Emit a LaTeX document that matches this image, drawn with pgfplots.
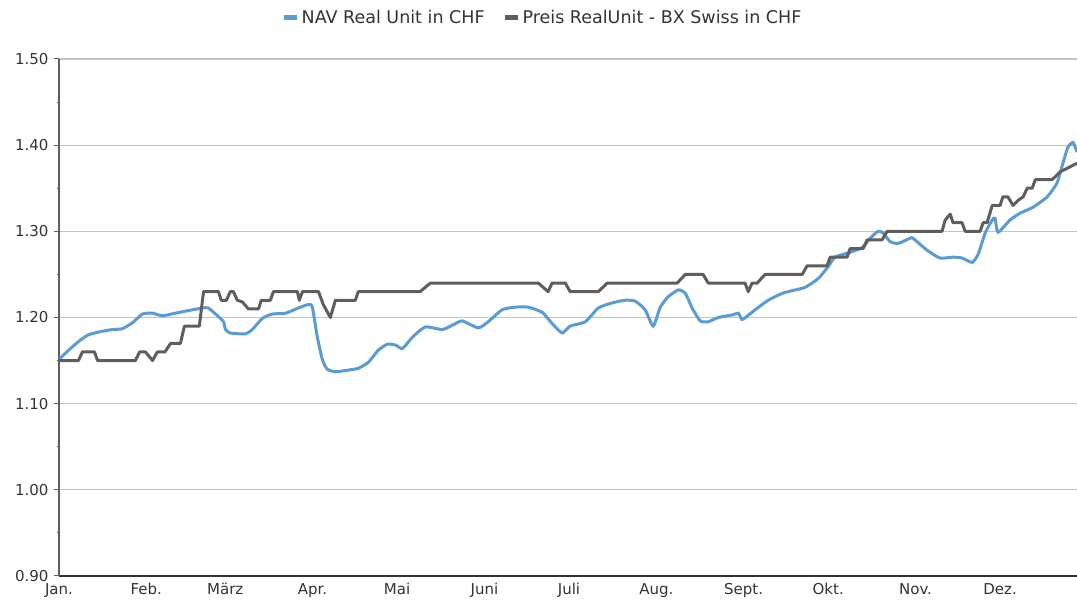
\documentclass[border=0pt]{standalone}
\usepackage{pgfplots}
\pgfplotsset{compat=1.18}
\usepackage{fontspec}
\setmainfont{DejaVu Sans}
\definecolor{navblue}{HTML}{5B9BD5}
\definecolor{preisgray}{HTML}{5E5E5E}
\definecolor{txt}{HTML}{333333}
\definecolor{gridgray}{HTML}{C4C4C4}

\pgfplotstableread{
day val
0 1.15
6.9 1.15
8.3 1.16
12.6 1.16
13.7 1.15
27.1 1.15
28.6 1.16
30.7 1.16
33.2 1.15
34.9 1.16
37.6 1.16
39.6 1.17
43.1 1.17
44.5 1.19
48.4 1.19
49.8 1.19
51.3 1.23
56.6 1.23
57.6 1.22
59.4 1.22
60.8 1.23
61.9 1.23
63.3 1.22
65.1 1.218
67.2 1.21
70.8 1.21
71.8 1.22
75.0 1.22
76.1 1.23
84.6 1.23
85.3 1.22
86.4 1.23
92.1 1.23
93.8 1.215
96.3 1.20
98.1 1.22
105.2 1.22
106.2 1.23
128.2 1.23
131.8 1.24
170.1 1.24
173.6 1.23
175.0 1.24
179.7 1.24
181.4 1.23
191.4 1.23
194.6 1.24
219.4 1.24
222.3 1.25
228.6 1.25
230.4 1.24
243.5 1.24
244.6 1.23
246.0 1.24
247.8 1.24
250.6 1.25
263.8 1.25
265.5 1.26
272.6 1.26
273.7 1.27
279.7 1.27
280.8 1.28
285.4 1.28
286.8 1.29
292.1 1.29
293.9 1.30
313.4 1.30
314.5 1.313
316.3 1.32
317.3 1.31
320.5 1.31
321.6 1.30
326.9 1.30
328.0 1.31
329.4 1.31
331.2 1.33
334.0 1.33
335.0 1.34
336.8 1.34
338.6 1.33
340.4 1.336
342.2 1.34
343.6 1.35
345.4 1.35
346.5 1.36
352.5 1.36
355.3 1.369
361.3 1.379
}\preis

\pgfplotstableread{
day val
0.2 1.152
3.4 1.162
6.9 1.172
10.5 1.180
15.4 1.184
19.0 1.186
22.5 1.187
26.1 1.194
29.6 1.204
33.2 1.205
36.7 1.202
41.3 1.205
45.9 1.208
50.9 1.211
53.0 1.211
56.6 1.201
58.4 1.195
59.1 1.186
60.8 1.182
66.2 1.181
68.6 1.186
72.2 1.199
75.7 1.204
80.4 1.205
84.9 1.211
88.5 1.215
89.9 1.212
91.7 1.177
93.5 1.151
95.2 1.140
98.1 1.137
102.7 1.139
106.2 1.141
109.8 1.148
113.3 1.162
116.5 1.169
119.4 1.168
121.9 1.164
125.4 1.177
130.0 1.189
136.0 1.186
139.6 1.191
143.1 1.196
148.8 1.188
152.3 1.195
157.3 1.209
161.9 1.212
166.5 1.212
171.5 1.206
175.0 1.193
178.6 1.182
181.4 1.190
186.8 1.195
191.4 1.211
196.4 1.217
200.9 1.220
204.5 1.219
208.0 1.209
210.9 1.190
213.4 1.212
216.2 1.224
219.8 1.232
222.3 1.228
224.7 1.211
227.6 1.196
230.4 1.195
234.0 1.200
239.0 1.203
241.1 1.205
242.1 1.199
242.8 1.198
247.1 1.209
251.7 1.220
256.7 1.228
261.3 1.232
264.8 1.235
269.4 1.245
273.0 1.259
275.4 1.270
280.1 1.275
285.0 1.281
287.9 1.292
290.7 1.300
292.5 1.298
295.0 1.288
297.8 1.286
302.1 1.292
303.1 1.292
308.1 1.278
312.7 1.269
317.3 1.270
320.5 1.269
324.1 1.264
326.3 1.274
328.7 1.298
331.2 1.313
332.2 1.315
333.3 1.299
337.5 1.313
341.1 1.321
345.7 1.328
350.7 1.340
354.2 1.356
356.3 1.379
358.1 1.398
359.9 1.403
361.3 1.392
}\nav

\begin{document}
\begin{tikzpicture}
\begin{axis}[
  scale only axis,
  width=1018pt, height=517pt,
  xmin=0, xmax=361.3,
  ymin=0.9, ymax=1.5,
  axis lines*=left,
  x axis line style={color=txt, line width=2.2pt},
  y axis line style={color=preisgray, line width=1.4pt},
  xtick={0,31,59,90,120,151,181,212,243,273,304,334},
  xticklabels={Jan.,Feb.,März,Apr.,Mai,Juni,Juli,Aug.,Sept.,Okt.,Nov.,Dez.},
  x tick style={draw=none},
  ytick={0.9,1.0,1.1,1.2,1.3,1.4,1.5},
  minor ytick={0.95,1.05,1.15,1.25,1.35,1.45},
  y tick style={color=preisgray, line width=1pt},
  tick align=outside,
  major tick length=5pt,
  minor tick length=2pt,
  ymajorgrids,
  major grid style={color=gridgray, line width=1.2pt},
  /pgf/number format/assume math mode=true,
  y tick label style={/pgf/number format/fixed, /pgf/number format/fixed zerofill, /pgf/number format/precision=2, xshift=-2pt},
  tick label style={font=\fontsize{15}{17}\selectfont, text=txt},
  x tick label style={yshift=1pt},
  legend columns=2,
  legend style={at={(0.475,1.081)}, anchor=center, draw=none, fill=none,
    font=\fontsize{17.5}{20}\selectfont, text=txt,
    /tikz/every even column/.append style={column sep=16pt}},
  legend image code/.code={\draw[#1, line width=5pt] (0pt,0pt) -- (13pt,0pt);},
]
\addplot[navblue, line width=3pt, smooth, tension=0.35] table[x=day, y=val] {\nav};
\addlegendentry{NAV Real Unit in CHF}
\addplot[preisgray, line width=3pt, line join=round] table[x=day, y=val] {\preis};
\addlegendentry{Preis RealUnit - BX Swiss in CHF}
\coordinate (bl) at (rel axis cs:0,0);
\coordinate (tr) at (rel axis cs:1,1);
\end{axis}
\pgfresetboundingbox
\path[use as bounding box] ([xshift=-59pt,yshift=-27pt]bl) rectangle ([yshift=59pt]tr);
\end{tikzpicture}
\end{document}
